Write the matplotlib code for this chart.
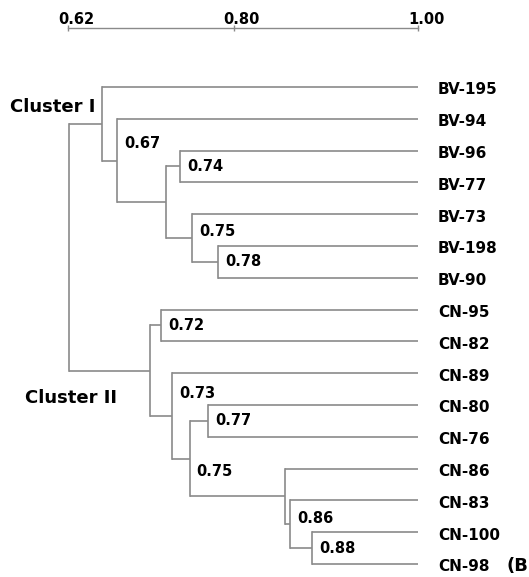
import matplotlib
matplotlib.use("Agg")
import matplotlib.pyplot as plt
from matplotlib.transforms import ScaledTranslation

# leaves, top to bottom
leaves = ["BV-195", "BV-94", "BV-96", "BV-77", "BV-73", "BV-198", "BV-90",
          "CN-95", "CN-82", "CN-89", "CN-80", "CN-76", "CN-86", "CN-83",
          "CN-100", "CN-98"]

# merges: child ids (0..15 leaves, 16+ earlier merges), similarity, printed label
merge_left = [2, 5, 4, 16, 1, 0, 7, 10, 14, 13, 12, 23, 9, 22, 21]
merge_right = [3, 6, 17, 18, 19, 20, 8, 11, 15, 24, 25, 26, 27, 28, 29]
merge_sim = [0.742, 0.783, 0.755, 0.726, 0.673, 0.657, 0.721, 0.772,
             0.885, 0.861, 0.856, 0.752, 0.733, 0.709, 0.621]
merge_text = ["0.74", "0.78", "0.75", "", "0.67", "", "0.72", "0.77",
              "0.88", "0.86", "", "0.75", "0.73", "", ""]

scale_ticks = [0.62, 0.80, 1.00]
scale_labels = ["0.62", "0.80", "1.00"]

# vertical nudges of the printed labels (in leaf rows)
label_dy = [0, 0, -0.22, 0, -0.52, 0, 0, 0, 0, -0.17, 0, 0.4, -0.72, 0, 0]

W, H = 529, 577
fig = plt.figure(figsize=(W / 100, H / 100), dpi=100)
ax = fig.add_axes([68 / W, 0, (418 - 68) / W, 1 - 28 / H])

line_col = "#8a8a8a"
lw = 1.2

# position of each node
xs = {i: 1.0 for i in range(len(leaves))}
ys = {i: float(i) for i in range(len(leaves))}
for k, (a, b, s) in enumerate(zip(merge_left, merge_right, merge_sim)):
    node = len(leaves) + k
    xs[node] = s
    ys[node] = (ys[a] + ys[b]) / 2
    for c in (a, b):
        ax.plot([s, xs[c]], [ys[c], ys[c]], color=line_col, lw=lw,
                solid_capstyle="butt", clip_on=False)
    ax.plot([s, s], [ys[a], ys[b]], color=line_col, lw=lw,
            solid_capstyle="projecting", clip_on=False)

to_px = fig.dpi_scale_trans
for k, txt in enumerate(merge_text):
    if not txt:
        continue
    node = len(leaves) + k
    ax.text(xs[node], ys[node] + label_dy[k], txt, fontsize=10.5,
            fontweight="bold", ha="left", va="center",
            transform=ax.transData + ScaledTranslation(7 / 100, 0, to_px))

for i, name in enumerate(leaves):
    ax.text(1.0, i, name, fontsize=11, fontweight="bold", ha="left",
            va="center", clip_on=False,
            transform=ax.transData + ScaledTranslation(20 / 100, -3 / 100, to_px))

ax.text(0.557, 0.63, "Cluster I", fontsize=13, fontweight="bold",
        ha="left", va="center", clip_on=False)
ax.text(0.573, 9.78, "Cluster II", fontsize=13, fontweight="bold",
        ha="left", va="center", clip_on=False)
ax.text(1.0, 15, "(B)", fontsize=13, fontweight="bold", ha="left",
        va="center", clip_on=False,
        transform=ax.transData + ScaledTranslation(88 / 100, -2 / 100, to_px))

ax.set_xlim(0.62, 1.00)
ax.set_ylim(15.41, -1.855)
ax.xaxis.tick_top()
ax.set_xticks(scale_ticks)
ax.set_xticklabels(scale_labels, fontsize=10.5, fontweight="bold")
ax.tick_params(axis="x", direction="inout", length=4, width=1,
               color=line_col, pad=0)
for lab in ax.get_xticklabels():
    lab.set_transform(lab.get_transform() + ScaledTranslation(8 / 100, -2 / 100, to_px))
ax.set_yticks([])
for side in ("left", "right", "bottom"):
    ax.spines[side].set_visible(False)
ax.spines["top"].set_color(line_col)
ax.spines["top"].set_linewidth(1)

fig.savefig("out.png", dpi=100)
